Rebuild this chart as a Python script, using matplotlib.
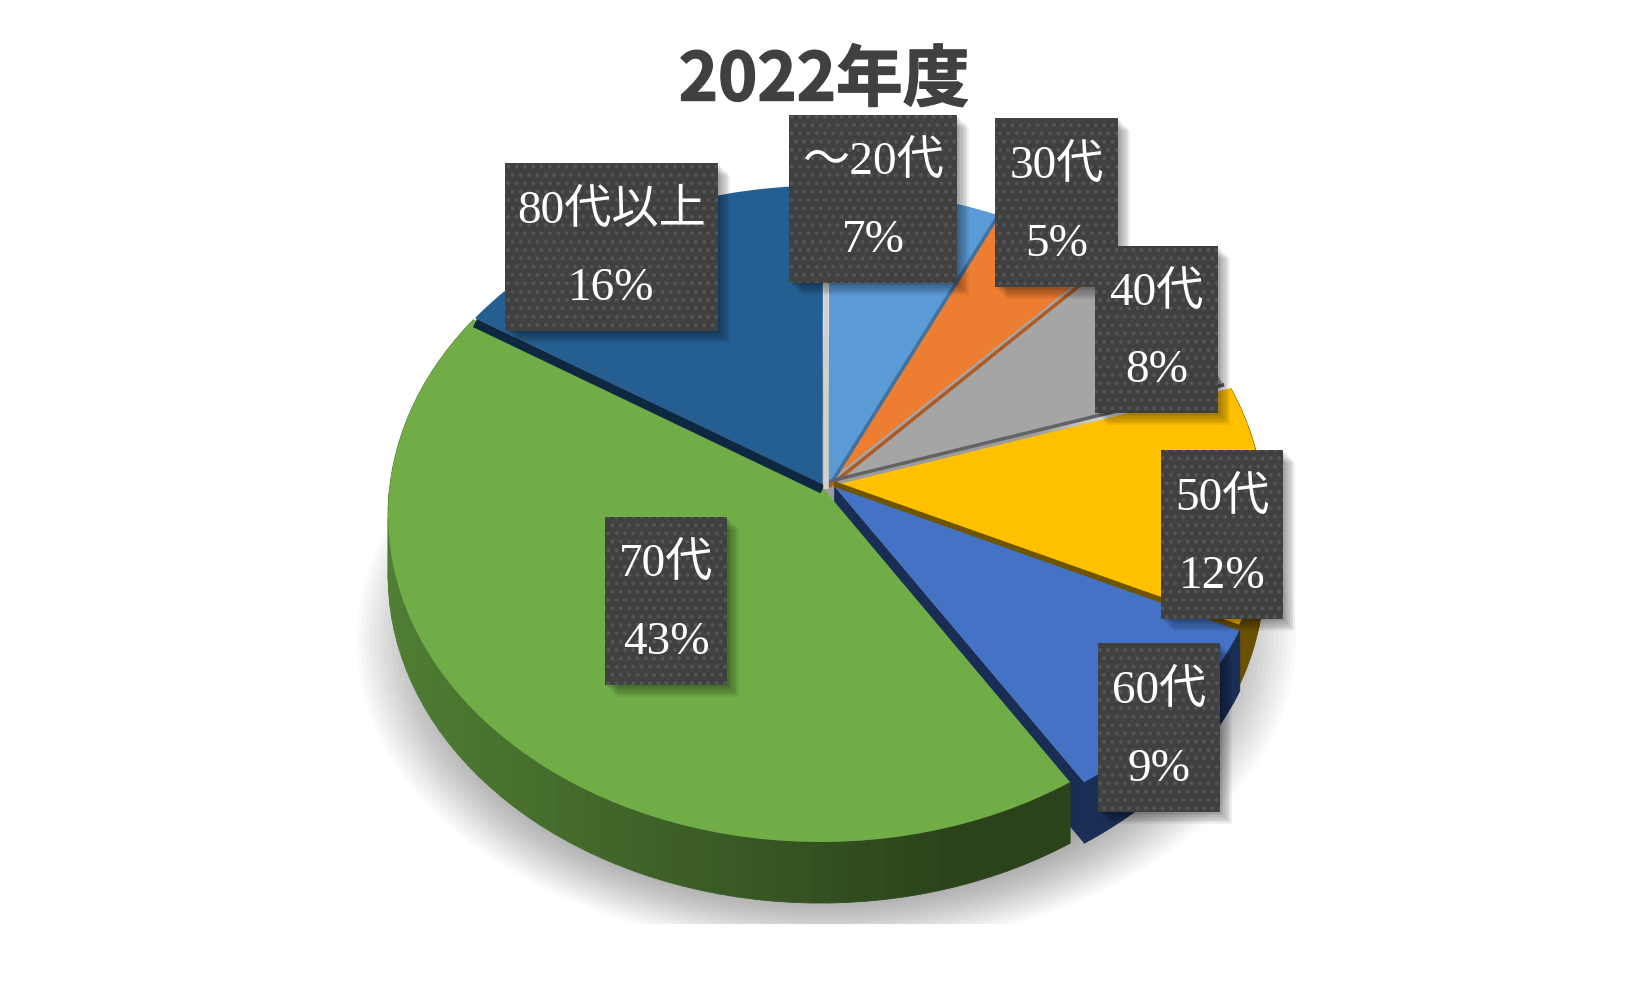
import numpy as np
import matplotlib
matplotlib.use("Agg")
import matplotlib.pyplot as plt
import matplotlib.patheffects as pe
from matplotlib.collections import PolyCollection
from matplotlib.patches import Ellipse, Rectangle
from matplotlib.transforms import Transform

title = "2022年度"
ages = ["～20代", "30代", "40代", "50代", "60代", "70代", "80代以上"]
shares = [7, 5, 8, 12, 9, 43, 16]

top_colors = ["#5B9BD5", "#ED7D31", "#A5A5A5", "#FFC000", "#4472C4", "#70AD47", "#255E91"]
wall_left = ["#2f5d88", "#8a4a1c", "#636363", "#7f6000", "#1a2d55", "#4f7d33", "#0e2841"]
wall_right = ["#2f5d88", "#8a4a1c", "#636363", "#6a5000", "#1a2d55", "#2b431a", "#0e2841"]
edge_colors = ["#41719C", "#AE5A21", "#636363", "#6f5400", "#1a2d55", "#1a2d55", "#0e2841"]
edge_widths = [2.5, 2.5, 2.5, 4, 0, 0, 0]
has_wall = [False, False, False, True, True, True, False]

# how far each slice is pulled out, in pie radii
offset_x = [0.0, 0.0, -0.01, 0.005, 0.012, -0.018, -0.015]
offset_y = [-0.008, -0.008, 0.005, 0.0, 0.0, 0.0, 0.005]

# label boxes in pixels: left, top, width, height
boxes = [(789, 115, 168, 168), (995, 118, 123, 169), (1095, 246, 123, 167),
         (1161, 450, 122, 169), (1098, 643, 122, 169), (605, 517, 122, 168),
         (505, 163, 213, 168)]

W, H = 1650, 990
cx, cy = 829, 486
rx, ry = 431.4, 325.0
tilt = 0.087
depth = 0.188

plt.rcParams['hatch.linewidth'] = 1.6
serif = ['Liberation Serif', 'Noto Sans CJK JP']


class Persp(Transform):
    input_dims = 2
    output_dims = 2

    def transform_non_affine(self, values):
        values = np.asarray(values, dtype=float)
        w = 1 + tilt * values[:, 1]
        return np.column_stack([values[:, 0] / w, values[:, 1] / w])


def persp_xy(x, y):
    w = 1 + tilt * y
    return x / w, y / w


fig = plt.figure(figsize=(W / 100, H / 100), dpi=100, facecolor="white")

bg = fig.add_axes([0, 0, 1, 1], zorder=1)
ax = fig.add_axes([0, 0, 1, 1], zorder=2)
ov = fig.add_axes([0, 0, 1, 1], zorder=3)
for a in (bg, ov):
    a.set_xlim(0, W)
    a.set_ylim(H, 0)
    a.axis("off")

# soft shadow under the pie, cut off flat at the bottom
clip = Rectangle((0, 0), W, 924, transform=bg.transData)
for s in np.linspace(1.0, 0.8, 22):
    e = Ellipse((826, 640), 940 * s, 620 * s, fc="#000000", ec="none", alpha=0.018)
    bg.add_patch(e)
    e.set_clip_path(clip)

wedges, _ = ax.pie(shares, startangle=90, counterclock=False, radius=1)
ax.set_aspect("auto")
ax.axis("off")
trans = Persp() + ax.transData

bounds = np.concatenate([[0], np.cumsum(shares)]) * 3.6
for i in range(len(shares)):
    ox, oy = offset_x[i], offset_y[i]
    th = np.radians(np.linspace(bounds[i], bounds[i + 1], 70))
    px, py = persp_xy(ox + np.sin(th), oy + np.cos(th))
    if has_wall[i]:
        quads = [[(px[j], py[j]), (px[j + 1], py[j + 1]),
                  (px[j + 1], py[j + 1] - depth), (px[j], py[j] - depth)] for j in range(len(px) - 1)]
        left = np.array(matplotlib.colors.to_rgb(wall_left[i]))
        right = np.array(matplotlib.colors.to_rgb(wall_right[i]))
        mix = np.clip((px[:-1] + 1) / 1.3, 0, 1)[:, None]
        ax.add_collection(PolyCollection(quads, facecolors=left * (1 - mix) + right * mix,
                                         edgecolors="face", linewidths=0.6, zorder=2 + i * 0.1))
    # the 60代 slice shows its cut face in the gap next to 70代
    if i == 4:
        tx, ty = persp_xy(ox, oy)
        ax.fill([tx, px[-1], px[-1], tx], [ty, py[-1], py[-1] - depth, ty - depth],
                color=edge_colors[i], lw=0, zorder=2 + i * 0.1)
    wedges[i].set_center((ox, oy))
    wedges[i].set_facecolor(top_colors[i])
    wedges[i].set_edgecolor("none")
    wedges[i].set_transform(trans)
    wedges[i].set_zorder(2.05 + i * 0.1)

# thin dark bands along the lower edges of the upper slices
for i in range(len(shares)):
    if edge_widths[i] == 0:
        continue
    a = np.radians(bounds[i + 1])
    k = i + 1 if i == 3 else i
    nx, ny = offset_x[k], offset_y[k]
    tx, ty = persp_xy(nx, ny)
    ex, ey = persp_xy(nx + np.sin(a), ny + np.cos(a))
    ax.plot([tx, ex], [ty + 0.006, ey + 0.006], color=edge_colors[i], lw=edge_widths[i],
            solid_capstyle="butt", zorder=2.9)
a = np.radians(bounds[6])
tx, ty = persp_xy(offset_x[6], offset_y[6])
ex, ey = persp_xy(offset_x[6] + np.sin(a), offset_y[6] + np.cos(a))
ax.plot([tx, ex], [ty - 0.015, ey - 0.015], color=edge_colors[6], lw=6.5,
        solid_capstyle="butt", zorder=2.9)
tx, ty = persp_xy(offset_x[0], offset_y[0])
ex, ey = persp_xy(offset_x[0], offset_y[0] + 1)
ax.plot([tx - 0.006, ex - 0.006], [ty, ey], color="#d0d0d0", lw=4, solid_capstyle="butt", zorder=2.9)
ax.set_xlim(-cx / rx, (W - cx) / rx)
ax.set_ylim(-(H - cy) / ry, cy / ry)

ov.text(824, 81, title, ha="center", va="center", fontsize=48, fontweight="bold",
        family=['Noto Sans CJK JP', 'DejaVu Sans'], color="#404040",
        path_effects=[pe.withStroke(linewidth=1, foreground="#404040")])

for i, (x, y, w, h) in enumerate(boxes):
    for s in range(1, 8):
        ov.add_patch(Rectangle((x + s * 1.7, y + s * 1.7), w, h, fc="#000000", ec="none", alpha=0.06, zorder=4))
    ov.add_patch(Rectangle((x, y), w, h, fc="#404040", ec="none", zorder=5))
    ov.add_patch(Rectangle((x, y), w, h, fc="none", ec="#555555", hatch="..", lw=0, zorder=5.1))
    ov.text(x + w / 2, y + 0.285 * h, ages[i], ha="center", va="center", fontsize=34,
            family=serif, color="white", zorder=6)
    ov.text(x + w / 2, y + 0.75 * h, f"{shares[i]}%", ha="center", va="center", fontsize=34,
            family=serif, color="white", zorder=6)

fig.savefig("out.png", dpi=100, facecolor="white")
